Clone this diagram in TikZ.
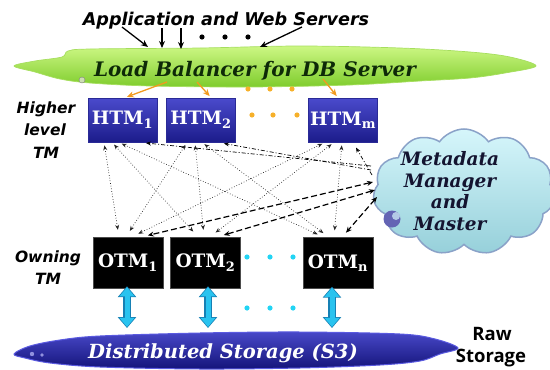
\documentclass[tikz,border=0pt]{standalone}
\usepackage{fontspec}
\setmainfont{DejaVu Serif}
\newfontfamily\osans{Open Sans}
\newfontfamily\dsans{DejaVu Sans}
\usetikzlibrary{shapes.symbols,arrows.meta,calc}
\definecolor{lbtop}{HTML}{CDF784}
\definecolor{lbbot}{HTML}{7ECC2C}
\definecolor{lbedge}{HTML}{A6DE5E}
\definecolor{lbtext}{HTML}{0E2A08}
\definecolor{htop}{HTML}{4A4ACC}
\definecolor{hbot}{HTML}{1C1C8A}
\definecolor{hedge}{HTML}{2A2A96}
\definecolor{stop}{HTML}{4848C8}
\definecolor{sbot}{HTML}{14147A}
\definecolor{sedge}{HTML}{5A5AE0}
\definecolor{mtop}{HTML}{D6F6FB}
\definecolor{mbot}{HTML}{96D0DA}
\definecolor{medge}{HTML}{8AA2C8}
\definecolor{mtext}{HTML}{141430}
\definecolor{orng}{HTML}{F29A1E}
\definecolor{odot}{HTML}{F6B02A}
\definecolor{cdot}{HTML}{22D4F4}
\definecolor{cfill}{HTML}{29C3EF}
\definecolor{cedge}{HTML}{1680B4}
\definecolor{crescent}{HTML}{6464B4}
\begin{document}
\begin{tikzpicture}[x=1pt,y=-1pt,
  every node/.style={inner sep=0pt},
  tmbox/.style={minimum width=69pt, minimum height=44pt, text=white, font=\fontsize{18.5}{18.5}\selectfont\bfseries},
  htmbox/.style={tmbox, draw=hedge, line width=0.8pt, top color=htop, bottom color=hbot},
  otmbox/.style={tmbox, fill=black, draw=black!70, minimum width=70pt, minimum height=51pt},
  sidelabel/.style={font=\dsans\bfseries\itshape\fontsize{15.5}{15.5}\selectfont, anchor=base},
  dotlink/.style={dotted, line width=0.7pt, draw=black!85, {Stealth[length=5pt,width=4pt]}-{Stealth[length=5pt,width=4pt]}, shorten <=3pt, shorten >=7pt},
  ddlink/.style={dash pattern=on 4pt off 2pt on 1pt off 2pt, line width=0.7pt, -{Stealth[length=5pt,width=4pt]}, shorten >=6pt},
  dashlink/.style={dash pattern=on 6pt off 3pt, line width=1.2pt, {Stealth[length=6pt,width=5pt]}-{Stealth[length=6pt,width=5pt]}, shorten >=6pt},
  blackarrow/.style={line width=1.3pt, -{Stealth[length=7pt,width=6pt]}},
  orangearrow/.style={draw=orng, line width=1.3pt, -{Stealth[length=7pt,width=6pt]}},
  fatouter/.style={draw=cedge, line width=7.4pt, {Triangle[length=11pt,width=18pt]}-{Triangle[length=11pt,width=18pt]}},
  fatinner/.style={draw=cfill, line width=5pt, {Triangle[length=9pt,width=14.5pt]}-{Triangle[length=9pt,width=14.5pt]}, shorten <=1.1pt, shorten >=1.1pt},
]
\useasboundingbox (0,0) rectangle (550,370);

% ---------- Load balancer cloud ----------
\path[draw=lbedge, line width=0.7pt, top color=lbtop, bottom color=lbbot]
  plot[smooth cycle, tension=0.55] coordinates {(14,66) (35,61) (62,57) (68,51) (90,49) (200,48) (300,46) (400,48) (470,52) (510,57) (536,66) (505,73) (470,78) (420,81) (350,85) (250,87) (150,86) (90,83) (60,79) (35,72)};
\draw[gray, fill=lbtop!60!gray!60] (82,80) circle (3);
\node[anchor=base, font=\fontsize{20}{20}\selectfont\bfseries\itshape, text=lbtext] (lb) at (255,76) {Load Balancer for DB Server};

% ---------- Storage blob ----------
\path[draw=sedge, line width=1pt, top color=stop, bottom color=sbot]
  plot[smooth cycle, tension=0.55] coordinates {(14,354) (30,346) (60,340) (100,336) (200,333) (300,332) (400,334) (435,339) (458,348) (440,354) (420,361) (380,365) (300,368) (200,369) (100,367) (50,363) (25,358)};
\fill[stop!60!white] (32,354) circle (2.2) (42,355) circle (1.8);
\node[anchor=base, font=\fontsize{19.5}{19.5}\selectfont\bfseries\itshape, text=white] (st) at (223,358) {Distributed Storage (S3)};

% ---------- Metadata cloud ----------
\node[cloud, cloud puffs=11, cloud puff arc=110, aspect=1.45, minimum width=182pt, minimum height=126pt, draw=medge, line width=1.5pt, top color=mtop, bottom color=mbot] (meta) at (464,192) {};
\fill[crescent] (392,219) circle (8.5);
\fill[mtop!70!crescent] (396,216) circle (4);
\node[align=center, font=\fontsize{18.5}{21.8}\selectfont\bfseries\itshape, text=mtext] (metatext) at (450,191) {Metadata\\Manager\\and\\Master};

% ---------- Top label and arrows ----------
\node[anchor=base, font=\dsans\bfseries\itshape\fontsize{17.6}{17.6}\selectfont] (app) at (226,25) {Application and Web Servers};
\coordinate (t1s) at (122,27); \coordinate (t1e) at (148,47);
\coordinate (t2s) at (162,28); \coordinate (t2e) at (162,48);
\coordinate (t3s) at (181,28); \coordinate (t3e) at (181,49);
\coordinate (t4s) at (302,27); \coordinate (t4e) at (260,47);
\draw[blackarrow] (t1s) -- (t1e);
\draw[blackarrow] (t2s) -- (t2e);
\draw[blackarrow] (t3s) -- (t3e);
\draw[blackarrow] (t4s) -- (t4e);
\fill (202,37) circle (2.6) (225,37) circle (2.6) (248,37) circle (2.6);

% ---------- HTM boxes ----------
\node[htmbox] (h1) at (122.5,120) {HTM\textsubscript{1}};
\node[htmbox] (h2) at (201,120) {HTM\textsubscript{2}};
\node[htmbox] (hm) at (343,120) {HTM\textsubscript{m}};
\fill[odot] (248,89) circle (2.6) (270,89) circle (2.6) (292,89) circle (2.6);
\fill[odot] (252,115) circle (2.6) (273,115) circle (2.6) (297,115) circle (2.6);

\coordinate (o1s) at (167,82);
\coordinate (o2s) at (197,82);
\coordinate (o3s) at (323,79);
\draw[orangearrow, shorten >=2pt] (o1s) -- ([xshift=2.5pt]h1.north);
\draw[orangearrow, shorten >=2pt] (o2s) -- ([xshift=10pt]h2.north);
\draw[orangearrow, shorten >=2pt] (o3s) -- ([xshift=-5pt]hm.north);

% ---------- OTM boxes ----------
\node[otmbox] (ot1) at (128,262.5) {OTM\textsubscript{1}};
\node[otmbox] (ot2) at (205.5,262.5) {OTM\textsubscript{2}};
\node[otmbox] (otn) at (338,263) {OTM\textsubscript{n}};
\fill[cdot] (247,257) circle (2.6) (270,257) circle (2.6) (293,257) circle (2.6);
\fill[cdot] (247,308) circle (2.6) (270,308) circle (2.6) (293,308) circle (2.6);

% ---------- HTM <-> OTM dotted links ----------
\draw[dotlink] ([xshift=-18.5pt]h1.south) -- ([xshift=-9pt]ot1.north);
\draw[dotlink] ([xshift=-10.5pt]h1.south) -- ([xshift=-7.5pt]ot2.north);
\draw[dotlink] ([xshift=-3.5pt]h1.south) -- ([xshift=-14pt]otn.north);
\draw[dotlink] ([xshift=-14pt]h2.south) -- ([xshift=-2pt]ot1.north);
\draw[dotlink] ([xshift=-6pt]h2.south) -- ([xshift=-1.5pt]ot2.north);
\draw[dotlink] ([xshift=1pt]h2.south) -- ([xshift=-9pt]otn.north);
\draw[dotlink] ([xshift=-18pt]hm.south) -- ([xshift=4pt]ot1.north);
\draw[dotlink] ([xshift=-9pt]hm.south) -- ([xshift=4.5pt]ot2.north);
\draw[dotlink] ([xshift=-1pt]hm.south) -- ([xshift=-4pt]otn.north);

% ---------- Metadata links ----------
\coordinate (m1) at (371,166);
\coordinate (m2) at (371,170);
\coordinate (m3) at (372,175);
\coordinate (m4) at (373,182);
\coordinate (m5) at (375,190);
\coordinate (m6) at (377,197);
\draw[ddlink] (m1) -- ([xshift=17.5pt]h1.south);
\draw[ddlink] (m2) -- ([xshift=17pt]h2.south);
\draw[ddlink] (m3) -- ([xshift=10pt]hm.south);
\draw[dashlink] (m4) -- ([xshift=14pt]ot1.north);
\draw[dashlink] (m5) -- ([xshift=12.5pt]ot2.north);
\draw[dashlink] (m6) -- ([xshift=4pt]otn.north);

% ---------- OTM <-> storage fat arrows ----------
\coordinate (s1) at (127,328);
\coordinate (s2) at (208,328);
\coordinate (s3) at (332,328);
\draw[fatouter] ([xshift=-1pt,yshift=2pt]ot1.south) -- (s1);
\draw[fatinner] ([xshift=-1pt,yshift=2pt]ot1.south) -- (s1);
\draw[fatouter] ([xshift=2.5pt,yshift=2pt]ot2.south) -- (s2);
\draw[fatinner] ([xshift=2.5pt,yshift=2pt]ot2.south) -- (s2);
\draw[fatouter] ([xshift=-6pt,yshift=2pt]otn.south) -- (s3);
\draw[fatinner] ([xshift=-6pt,yshift=2pt]otn.south) -- (s3);

% ---------- Side labels ----------
\node[sidelabel] (hl1) at (46,113) {Higher};
\node[sidelabel] (hl2) at (45,135) {level};
\node[sidelabel] (hl3) at (46,158) {TM};
\node[sidelabel] (ow1) at (48,262) {Owning};
\node[sidelabel] (ow2) at (48,284) {TM};
\node[anchor=base, font=\osans\bfseries\fontsize{18.5}{18.5}\selectfont] (raw1) at (492,340) {Raw};
\node[anchor=base, font=\osans\bfseries\fontsize{18.5}{18.5}\selectfont] (raw2) at (491,362) {Storage};
\end{tikzpicture}
\end{document}
